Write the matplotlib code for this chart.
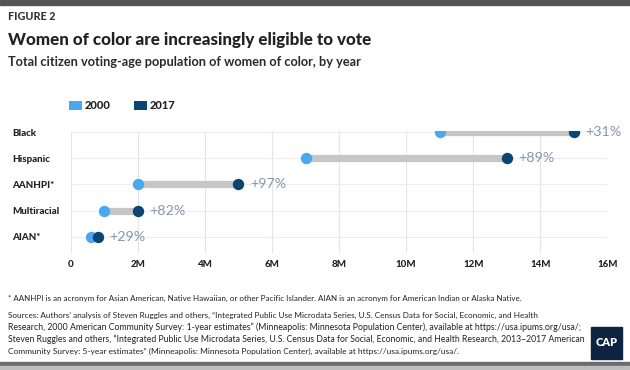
import matplotlib
matplotlib.use("Agg")
import matplotlib.pyplot as plt
from matplotlib.patches import Rectangle, Patch
import numpy as np

plt.rcParams['font.family'] = ['Lato', 'DejaVu Sans']

# ---------------- data ----------------
categories = ["Black", "Hispanic", "AANHPI*", "Multiracial", "AIAN*"]
values_2000 = [11.0, 7.0, 2.0, 1.0, 0.6]      # millions
values_2017 = [15.0, 13.0, 5.0, 2.0, 0.8]     # millions
change_labels = ["+31%", "+89%", "+97%", "+82%", "+29%"]
series_names = ["2000", "2017"]
xticks = [0, 2, 4, 6, 8, 10, 12, 14, 16]
xtick_labels = ["0", "2M", "4M", "6M", "8M", "10M", "12M", "14M", "16M"]

title = "Women of color are increasingly eligible to vote"
subtitle = "Total citizen voting-age population of women of color, by year"
figure_label = "FIGURE 2"
notes = [
    "* AANHPI is an acronym for Asian American, Native Hawaiian, or other Pacific Islander. AIAN is an acronym for American Indian or Alaska Native.",
    "Sources: Authors\u2019 analysis of Steven Ruggles and others, \u201cIntegrated Public Use Microdata Series, U.S. Census Data for Social, Economic, and Health",
    "Research, 2000 American Community Survey: 1-year estimates\u201d (Minneapolis: Minnesota Population Center), available at https://usa.ipums.org/usa/;",
    "Steven Ruggles and others, \u201cIntegrated Public Use Microdata Series, U.S. Census Data for Social, Economic, and Health Research, 2013\u20132017 American",
    "Community Survey: 5-year estimates\u201d (Minneapolis: Minnesota Population Center), available at https://usa.ipums.org/usa/.",
]

# ---------------- style ----------------
W, H = 630, 370
C2000 = "#4aa8f2"
C2017 = "#0b4673"
CBAR = "#c6c6c6"
CLAB = "#8797ab"
DARK = "#222222"

fig = plt.figure(figsize=(W / 100, H / 100), dpi=100)
fig.patch.set_facecolor("white")

def fx(px):
    return px / W

def fy(py):
    return 1 - py / H

# frame bars
fig.patches.append(Rectangle((0, fy(4.5)), 1, 4.5 / H, transform=fig.transFigure,
                             color="#555555", zorder=0))
fig.patches.append(Rectangle((0, fy(366)), 1, 4.5 / H, transform=fig.transFigure,
                             color="#6b6b6b", zorder=0))
fig.patches.append(Rectangle((0, 0), 1, 4 / H, transform=fig.transFigure,
                             color="#bdbdbd", zorder=0))

# axes
left, right = 70.7, 607.5
top, bottom = 131.0, 253.0
ax = fig.add_axes([fx(left), fy(bottom), fx(right - left), (bottom - top) / H])

n = len(categories)
ypos = np.arange(n)[::-1]  # Black at top

for y, a, b, lab in zip(ypos, values_2000, values_2017, change_labels):
    ax.plot([a, b], [y, y], color=CBAR, lw=5.2, solid_capstyle="butt", zorder=2)
    ax.annotate(lab, (b, y), xytext=(8.5, 0), textcoords="offset points",
                va="center", ha="left", fontsize=10.3, color=CLAB, zorder=4)

ax.scatter(values_2000, ypos, s=8.2 ** 2, color=C2000, zorder=3, linewidths=0)
ax.scatter(values_2017, ypos, s=8.2 ** 2, color=C2017, zorder=3, linewidths=0)

ax.set_xlim(0, 16)
ax.set_ylim(-0.625, 4.05)
ax.set_xticks(xticks)
ax.set_xticklabels(xtick_labels, fontsize=7, fontweight="black", color=DARK)
ax.set_yticks(ypos)
ax.set_yticklabels(categories, fontsize=7, fontweight="black", color=DARK)
for t in ax.get_yticklabels():
    t.set_horizontalalignment("left")
ax.tick_params(axis="y", length=0, pad=(left - 12.5) * 0.72)
ax.tick_params(axis="x", length=0, pad=5)
for s in ax.spines.values():
    s.set_visible(False)
ax.grid(True, axis="x", color="#e4e4e4", lw=0.8, zorder=0)
ax.grid(True, axis="y", color="#eeeeee", lw=0.8, zorder=0)
ax.set_axisbelow(True)

# legend
handles = [Patch(facecolor=C2000, edgecolor="none"), Patch(facecolor=C2017, edgecolor="none")]
fig.legend(handles, series_names, loc="center left", bbox_to_anchor=(fx(69), fy(105.5)),
           ncol=2, frameon=False, borderpad=0, borderaxespad=0,
           handlelength=1.15, handleheight=0.85, handletextpad=0.25, columnspacing=2.15,
           prop={"family": "Lato", "weight": "black", "size": 8}, labelcolor=DARK)

# texts
renderer = fig.canvas.get_renderer()

def fit(t, target_px):
    for _ in range(3):
        w = t.get_window_extent(renderer).width
        t.set_fontsize(t.get_fontsize() * target_px / w)

t0 = fig.text(fx(8), fy(17), figure_label, fontsize=6.5, fontweight="black", color="#333333",
              va="center", ha="left")
fit(t0, 47)
t1 = fig.text(fx(8), fy(40), title, fontsize=13, fontweight="black", color="#222222",
              va="center", ha="left")
fit(t1, 364)
t2 = fig.text(fx(8), fy(61.5), subtitle, fontsize=9, fontweight="bold", color="#2a2a2a",
              va="center", ha="left")
fit(t2, 354)

note_y = [298.5, 315, 327, 339, 351]
note_w = [510, 530, 566, 568, 451]
for txt, yy, ww in zip(notes, note_y, note_w):
    t = fig.text(fx(8), fy(yy), txt, fontsize=4.5, color="#222222", va="center", ha="left")
    fit(t, ww)

# CAP logo
fig.patches.append(Rectangle((fx(590.7), fy(359)), fx(31), 32.3 / H, transform=fig.transFigure,
                             color="#0d2340", zorder=1))
tc = fig.text(fx(606.2), fy(343), "CAP", fontsize=10, fontweight="heavy", color="white",
              ha="center", va="center", zorder=2)
fit(tc, 22)

fig.savefig("out.png", dpi=100)
